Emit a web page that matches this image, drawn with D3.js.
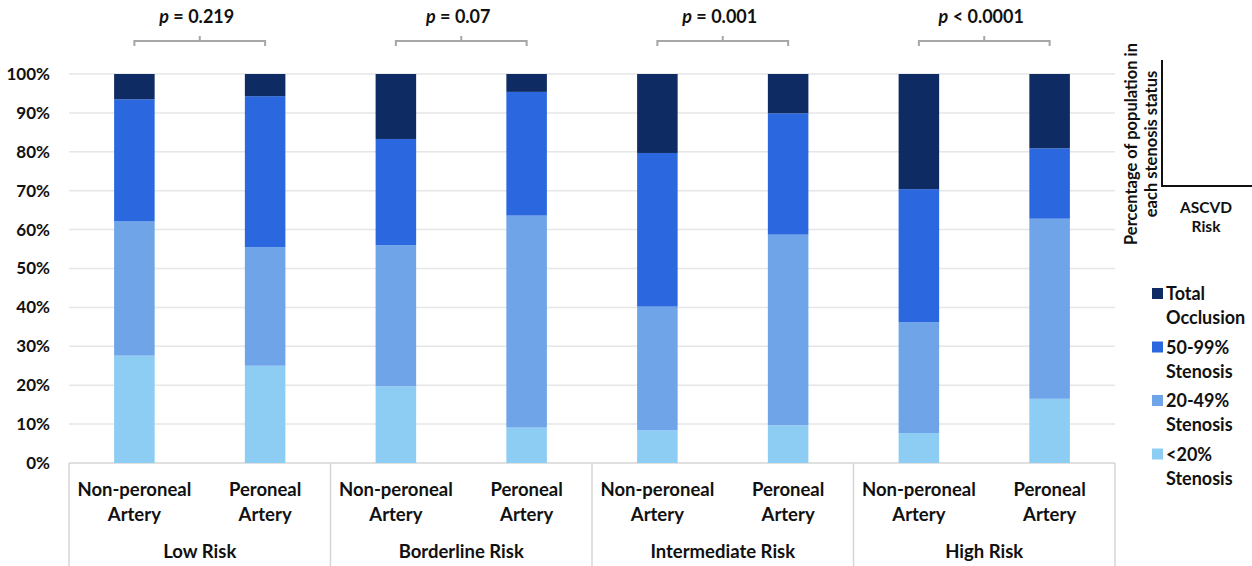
<!DOCTYPE html>
<html>
<head>
<meta charset="utf-8">
<script src="https://d3js.org/d3.v7.min.js"></script>
<style>
  body { margin: 0; background: #fff; }
  text { font-family: Lato, "Open Sans", sans-serif; font-weight: bold; fill: #111; }
</style>
</head>
<body>
<div id="chart"></div>
<script>
// ---- data ----
const groups   = ["Low Risk", "Borderline Risk", "Intermediate Risk", "High Risk"];
const arteries = ["Non-peroneal Artery", "Peroneal Artery"];
const seriesNames = ["<20% Stenosis", "20-49% Stenosis", "50-99% Stenosis", "Total Occlusion"];

// one value per bar, in order: group x artery
const below20   = [27.6, 25.0, 19.7,  9.1,  8.4,  9.7,  7.7, 16.5];
const s20to49   = [34.5, 30.5, 36.3, 54.5, 31.8, 49.0, 28.5, 46.3];
const s50to99   = [31.4, 38.8, 27.3, 31.8, 39.5, 31.2, 34.2, 18.1];
const occlusion = [ 6.5,  5.7, 16.7,  4.6, 20.3, 10.1, 29.6, 19.1];

const pLabels = ["= 0.219", "= 0.07", "= 0.001", "< 0.0001"];
const yTicks  = [0, 10, 20, 30, 40, 50, 60, 70, 80, 90, 100];

const colors = ["#8ecdf3", "#6fa4e9", "#2b68e0", "#0f2b63"];

// ---- layout ----
const W = 1252, H = 566;
const margin = {top: 74, right: 137, bottom: 103, left: 69};
const width  = W - margin.left - margin.right;
const height = H - margin.top - margin.bottom;

const rows = [];
groups.forEach((g, gi) => {
    arteries.forEach((a, ai) => {
        const i = gi * 2 + ai;
        rows.push({
            group: g, artery: a,
            "<20% Stenosis": below20[i],
            "20-49% Stenosis": s20to49[i],
            "50-99% Stenosis": s50to99[i],
            "Total Occlusion": occlusion[i]
        });
    });
});

const svg = d3.select("#chart").append("svg")
    .attr("width", W).attr("height", H);

const g = svg.append("g")
    .attr("transform", "translate(" + margin.left + "," + margin.top + ")");

const x0 = d3.scaleBand().domain(groups).range([0, width]);
const x1 = d3.scaleBand().domain(arteries).range([0, x0.bandwidth()]).paddingInner(0.69).paddingOuter(0.345);
const y  = d3.scaleLinear().domain([0, 100]).range([height, 0]);

// gridlines
g.append("g")
    .selectAll("line")
    .data(yTicks)
    .enter().append("line")
    .attr("x1", 0).attr("x2", width)
    .attr("y1", d => y(d)).attr("y2", d => y(d))
    .attr("stroke", d => d === 0 ? "#d6d6d6" : "#e6e6e6")
    .attr("stroke-width", 1.5);

// y axis labels
const yAxis = d3.axisLeft(y).tickValues(yTicks).tickFormat(d => d + "%").tickSize(0).tickPadding(19);
const ya = g.append("g").call(yAxis);
ya.select(".domain").remove();
ya.selectAll("text")
    .style("font-family", "Lato, sans-serif")
    .style("font-weight", "bold")
    .style("font-size", "17px")
    .attr("fill", "#111");

// stacked bars
const stacked = d3.stack().keys(seriesNames)(rows);

g.selectAll("g.series")
    .data(stacked)
    .enter().append("g")
    .attr("class", "series")
    .attr("fill", (d, i) => colors[i])
    .selectAll("rect")
    .data(d => d)
    .enter().append("rect")
    .attr("x", d => x0(d.data.group) + x1(d.data.artery))
    .attr("width", x1.bandwidth())
    .attr("y", d => y(d[1]))
    .attr("height", d => y(d[0]) - y(d[1]));

// category axis: separators
const sepX = groups.map(d => x0(d)).concat([width]);
g.append("g")
    .selectAll("line")
    .data(sepX)
    .enter().append("line")
    .attr("x1", d => d).attr("x2", d => d)
    .attr("y1", height).attr("y2", H - margin.top)
    .attr("stroke", "#d6d6d6")
    .attr("stroke-width", 1.5);

// artery labels
const catLabels = g.append("g");
rows.forEach(r => {
    const cx = x0(r.group) + x1(r.artery) + x1.bandwidth() / 2;
    const parts = r.artery.split(" ");
    const t = catLabels.append("text")
        .attr("text-anchor", "middle")
        .attr("font-size", "18.5px")
        .attr("x", cx)
        .attr("y", height + 33);
    parts.forEach((p, i) => {
        t.append("tspan").attr("x", cx).attr("dy", i === 0 ? 0 : 25).text(p);
    });
});

// group labels
g.append("g")
    .selectAll("text")
    .data(groups)
    .enter().append("text")
    .attr("text-anchor", "middle")
    .attr("font-size", "18.5px")
    .attr("x", d => x0(d) + x0.bandwidth() / 2)
    .attr("y", height + 95)
    .text(d => d);

// p-value brackets
groups.forEach((grp, gi) => {
    const xa = x0(grp) + x1(arteries[0]) + x1.bandwidth() / 2;
    const xb = x0(grp) + x1(arteries[1]) + x1.bandwidth() / 2;
    const xm = (xa + xb) / 2;
    const by = -33;
    g.append("path")
        .attr("d", "M" + xa + "," + (by + 5) + "V" + by + "H" + xb + "V" + (by + 5) +
                   "M" + xm + "," + by + "V" + (by - 5))
        .attr("fill", "none")
        .attr("stroke", "#a6a6a6")
        .attr("stroke-width", 2);
    const t = g.append("text")
        .attr("text-anchor", "middle")
        .attr("font-size", "18px")
        .attr("x", xm - 3)
        .attr("y", -51);
    t.append("tspan").attr("font-style", "italic").text("p");
    t.append("tspan").text(" " + pLabels[gi]);
});

// inset axis sketch
const ix = 1162, iyTop = 60, iyBot = 186;
svg.append("path")
    .attr("d", "M" + ix + "," + iyTop + "V" + iyBot + "H" + W)
    .attr("fill", "none")
    .attr("stroke", "#111")
    .attr("stroke-width", 2);

const rot = svg.append("text")
    .attr("text-anchor", "middle")
    .attr("font-size", "16.5px")
    .attr("transform", "translate(1137,144) rotate(-90)");
rot.append("tspan").attr("x", 0).attr("dy", 0).text("Percentage of population in");
rot.append("tspan").attr("x", 0).attr("dy", 19.5).text("each stenosis status");

const asc = svg.append("text")
    .attr("text-anchor", "middle")
    .attr("font-size", "15.5px")
    .attr("x", 1206).attr("y", 213);
asc.append("tspan").attr("x", 1206).attr("dy", 0).text("ASCVD");
asc.append("tspan").attr("x", 1206).attr("dy", 19).text("Risk");

// legend (top to bottom: reverse stack order)
const legendItems = seriesNames.slice().reverse();
const legend = svg.append("g").attr("transform", "translate(1152,288)");
legendItems.forEach((name, i) => {
    const li = legend.append("g").attr("transform", "translate(0," + (i * 53.5) + ")");
    li.append("rect")
        .attr("x", 0).attr("y", 0)
        .attr("width", 11).attr("height", 11)
        .attr("fill", colors[seriesNames.length - 1 - i]);
    const words = name.split(" ");
    const t = li.append("text").attr("font-size", "18px").attr("x", 14).attr("y", 12);
    t.append("tspan").attr("x", 14).attr("dy", 0).text(words[0]);
    t.append("tspan").attr("x", 14).attr("dy", 24).text(words.slice(1).join(" "));
});
</script>
</body>
</html>
